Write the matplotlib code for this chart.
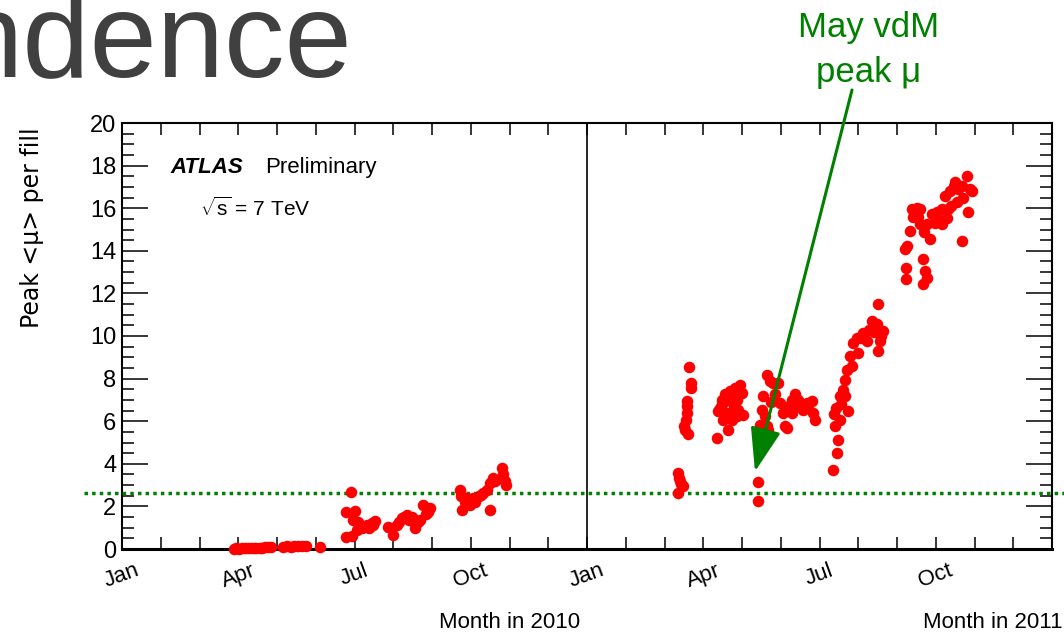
import numpy as np
import matplotlib
matplotlib.use('Agg')
import matplotlib.pyplot as plt
from matplotlib.transforms import blended_transform_factory

plt.rcParams['font.family'] = ['Liberation Sans', 'DejaVu Sans']
plt.rcParams['mathtext.fontset'] = 'custom'
plt.rcParams['mathtext.rm'] = 'Liberation Sans'
plt.rcParams['mathtext.it'] = 'Liberation Sans:italic'

# peak <mu> per fill, x in months since 1 Jan of the year
months_2010 = [2.88, 2.95, 3.02, 3.10, 3.18, 3.25, 3.32, 3.40, 3.47, 3.55, 3.62, 3.70, 3.78, 3.85,
               4.15, 4.25, 4.35, 4.45, 4.55, 4.65, 4.75, 5.10,
               5.78, 5.93, 5.91, 5.78, 6.01, 5.97, 6.06, 6.19, 6.31, 6.44, 6.53, 6.09, 6.25, 6.37, 6.48,
               6.87, 7.00, 7.09, 7.22, 7.35, 7.48, 7.56, 7.69, 7.78, 7.90, 7.95, 7.15, 7.28, 7.41, 7.64, 7.85,
               8.72, 8.77, 8.90, 8.98, 9.07, 9.20, 9.32, 9.41, 9.50, 9.58, 9.50, 9.80, 9.84, 9.90, 9.88,
               8.75, 8.85, 9.00, 9.12, 9.26, 9.62]
mu_2010 = [0.02, 0.03, 0.02, 0.04, 0.03, 0.05, 0.04, 0.06, 0.05, 0.07, 0.06, 0.08, 0.09, 0.10,
           0.10, 0.12, 0.10, 0.14, 0.12, 0.15, 0.13, 0.08,
           0.58, 0.60, 2.67, 1.76, 1.80, 1.34, 0.90, 0.99, 1.14, 1.22, 1.30, 1.27, 1.04, 0.99, 1.13,
           1.02, 0.66, 1.13, 1.44, 1.60, 1.52, 0.97, 1.36, 2.07, 1.76, 1.92, 1.27, 1.50, 1.36, 1.27, 1.65,
           2.79, 1.85, 2.40, 2.08, 2.40, 2.47, 2.64, 2.79, 3.10, 3.34, 1.85, 3.81, 3.50, 3.00, 3.18,
           2.50, 2.20, 2.30, 2.20, 2.55, 3.20]

months_2011 = [2.36, 2.40, 2.49, 2.36, 2.37, 2.43,
               2.64, 2.68, 2.68, 2.59, 2.57, 2.56, 2.50, 2.61, 2.58, 2.54,
               3.36, 3.48, 3.43, 3.56, 3.69, 3.82, 3.95, 3.99, 3.61, 3.73, 3.65, 3.86, 4.03, 3.52, 3.39,
               3.78, 3.90, 3.48, 3.61, 3.74, 3.87, 3.79,
               4.41, 4.41,
               4.64, 4.72, 4.81, 4.94, 4.55, 4.51, 4.46, 4.59, 4.64, 4.68, 4.98, 5.07, 5.11, 5.20, 5.37,
               5.41, 5.50, 5.67, 5.80, 5.84, 5.88, 5.28, 5.58, 5.15, 4.85, 4.74, 5.29, 5.71, 5.45,
               6.36, 6.46, 6.49, 6.40, 6.37, 6.53, 6.53, 6.61, 6.74, 6.66, 6.70, 6.79, 6.87, 6.96, 7.13,
               7.35, 7.52, 7.48, 7.65, 7.56, 7.52, 7.00, 6.83, 7.22, 6.42, 6.56, 6.66, 7.06, 7.27, 7.40, 7.59,
               8.25, 8.21, 8.23, 8.23, 8.68, 8.72, 8.68, 8.77, 8.34, 8.38, 8.51, 8.59, 8.59, 8.77, 8.85,
               8.90, 9.02, 9.15, 9.24, 9.32, 9.37, 9.46, 9.50, 9.58, 9.67, 9.80, 9.88, 9.84, 9.67, 9.07,
               9.54, 9.15, 9.28, 8.42, 8.55, 8.70, 8.97, 9.40, 9.70, 9.93]
mu_2011 = [3.56, 3.17, 2.94, 2.62, 3.35, 3.05,
           8.55, 7.80, 7.56, 6.96, 6.39, 6.07, 5.77, 5.38, 6.70, 5.60,
           5.21, 7.01, 6.62, 7.26, 7.41, 7.56, 7.72, 7.33, 6.39, 6.07, 5.60, 6.23, 6.31, 6.07, 6.46,
           6.86, 6.54, 6.80, 7.00, 7.20, 7.00, 6.60,
           3.15, 2.24,
           8.19, 7.88, 7.80, 7.80, 7.17, 6.54, 5.84, 6.23, 5.77, 5.60, 6.86, 6.39, 5.77, 6.70, 7.26,
           6.70, 6.86, 6.86, 6.94, 6.39, 6.07, 6.39, 6.54, 5.68, 7.30, 6.90, 7.00, 6.60, 7.00,
           3.72, 4.53, 5.10, 5.77, 6.35, 6.07, 7.17, 7.48, 6.46, 7.95, 8.42, 9.05, 9.68, 9.92, 10.15,
           10.70, 11.49, 10.55, 10.24, 9.77, 9.30, 9.21, 8.58, 9.77, 6.60, 6.80, 7.20, 9.90, 10.30, 10.20, 10.00,
           14.22, 14.08, 13.20, 12.66, 13.60, 13.05, 12.42, 12.73, 14.93, 15.95, 16.03, 15.95, 15.25, 15.25, 14.54,
           15.72, 15.80, 15.95, 16.58, 15.95, 16.82, 17.06, 17.22, 16.90, 17.06, 17.53, 16.90, 15.80, 14.46, 15.49,
           16.27, 15.25, 15.56, 15.60, 15.60, 14.90, 15.30, 16.10, 16.50, 16.80]

vdm_mu = 2.64
month_names = ['Jan', 'Apr', 'Jul', 'Oct']

green = '#008000'

fig = plt.figure(figsize=(10.64, 6.39), dpi=100)
ax = fig.add_axes([122 / 1064, 1 - 549 / 639, 930 / 1064, 426 / 639])

x_all = np.concatenate([np.array(months_2010), 12 + np.array(months_2011)])
y_all = np.concatenate([mu_2010, mu_2011])
ax.plot(x_all, y_all, 'o', color='red', ms=8.3, mec='none', clip_on=False, zorder=4)

ax.set_xlim(0, 24)
ax.set_ylim(0, 20)
ax.axvline(12, color='black', lw=1.2, zorder=1)

# dotted reference at the vdM value, running past the frame
tr = blended_transform_factory(ax.transAxes, ax.transData)
ax.plot([-0.041, 1.02], [vdm_mu, vdm_mu], transform=tr, clip_on=False,
        color=green, lw=2.5, ls=(0, (1, 1.2)), zorder=3)

# ROOT style frame
for side in ['top', 'right', 'left']:
    ax.spines[side].set_linewidth(1.5)
ax.spines['bottom'].set_linewidth(2.2)

ticks = list(range(25))
labels = []
for t in ticks:
    labels.append(month_names[(t % 12) // 3] if t % 3 == 0 and t < 24 else '')
ax.set_xticks(ticks)
ax.set_xticklabels(labels, rotation=20, fontsize=16)
ax.set_yticks(np.arange(0, 21, 2))
ax.set_yticks(np.arange(0, 20.01, 0.5), minor=True)
ax.tick_params(axis='x', which='major', direction='in', length=8.6, width=1.1,
               top=True, pad=8)
ax.tick_params(axis='y', which='major', direction='in', length=19, width=1.1,
               right=True, labelsize=17, pad=4)
ax.tick_params(axis='y', which='minor', direction='in', length=8.6, width=1.1, right=True)
for lab in ax.get_xticklabels():
    lab.set_horizontalalignment('center')

ax.text(0.052, 0.883, 'ATLAS', transform=ax.transAxes, fontsize=16,
        fontweight='bold', fontstyle='italic', va='baseline')
ax.text(0.154, 0.883, 'Preliminary', transform=ax.transAxes, fontsize=16, va='baseline')
ax.text(0.084, 0.782, r'$\sqrt{\mathrm{s}}$ = 7 TeV', transform=ax.transAxes,
        fontsize=15, va='baseline')

fig.text(32 / 1064, 1 - 228 / 639, 'Peak <μ> per fill', rotation=90,
         ha='center', va='center', fontsize=17, family='DejaVu Sans')
fig.text(580 / 1064, 1 - 622 / 639, 'Month in 2010', ha='right', va='center', fontsize=16)
fig.text(923 / 1064, 1 - 622 / 639, 'Month in 2011', ha='left', va='center', fontsize=16)

# slide title bleeding in from the top
fig.text(353 / 1064, 1 - 76 / 639, 'ndence', ha='right', va='baseline',
         fontsize=87, color='#404040', family='Liberation Sans')

fig.text(869 / 1064, 1 - 37 / 639, 'May vdM', ha='center', va='baseline',
         fontsize=25, color=green, family='Liberation Sans')
fig.text(869 / 1064, 1 - 82 / 639, 'peak μ', ha='center', va='baseline',
         fontsize=25, color=green, family='Liberation Sans')

ax.annotate('', xy=(16.335, 3.64), xytext=(852 / 1064, 1 - 90 / 639),
            textcoords='figure fraction', annotation_clip=False,
            arrowprops=dict(arrowstyle='-|>,head_length=2.7,head_width=0.95',
                            mutation_scale=10, color=green, lw=2.2,
                            shrinkA=0, shrinkB=0),
            zorder=6)

fig.savefig('out.png', dpi=100)
